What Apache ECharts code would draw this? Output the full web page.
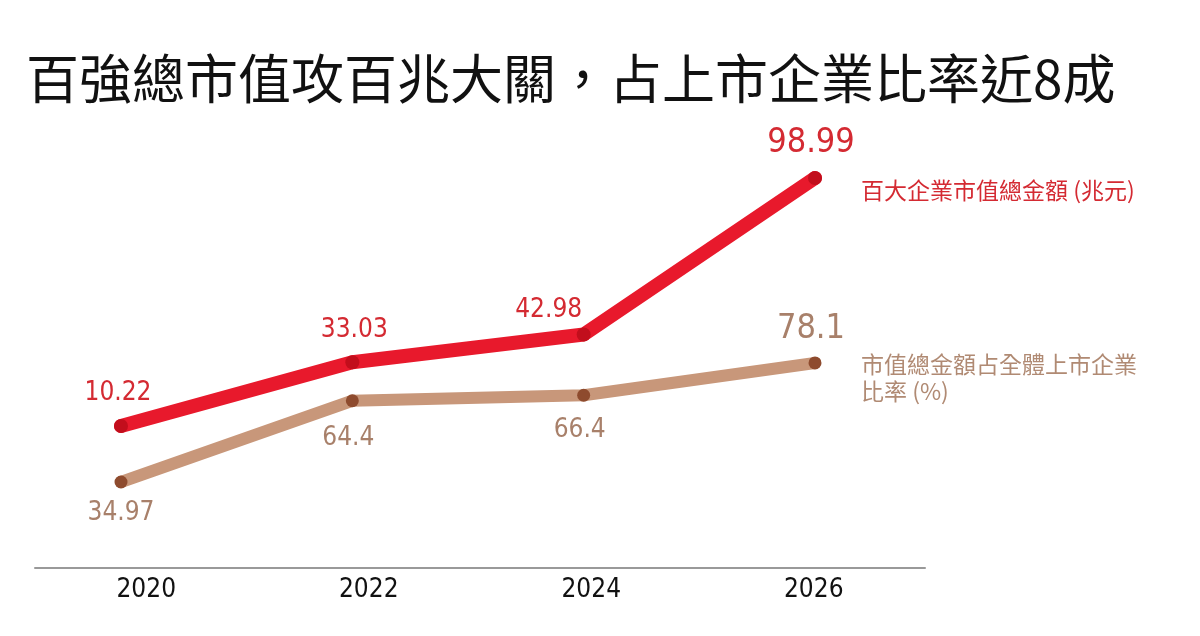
<!DOCTYPE html>
<html><head><meta charset="utf-8">
<script src="https://cdn.jsdelivr.net/npm/echarts@6/dist/echarts.min.js"></script>
<style>html,body{margin:0;padding:0;background:#fff}#c{width:1200px;height:636px}</style>
</head><body><div id="c"></div>
<script>
const years = ['2020','2022','2024','2026'];
const marketCap = [10.22, 33.03, 42.98, 98.99];
const sharePct = [34.97, 64.4, 66.4, 78.1];
const titleText = '百強總市值攻百兆大關，占上市企業比率近8成';
const capName = '百大企業市值總金額 (兆元)';
const shareName = '市值總金額占全體上市企業\n比率 (%)';

const numFont = "'Liberation Sans Narrow','DejaVu Sans Condensed',Lato,sans-serif";
const cjkFont = "'Noto Sans CJK TC','Noto Sans',sans-serif";

// label placement styling (not data)
const capLabelStyle = [
  {position:'top', distance:13, offset:[-3,0], fontSize:26},
  {position:'top', distance:12, offset:[2,0], fontSize:26},
  {position:'top', distance:4, offset:[-35,0], fontSize:26},
  {position:'top', distance:11, offset:[-4,0], fontSize:34}
];
const shareLabelStyle = [
  {position:'bottom', distance:12, offset:[0,0], fontSize:26},
  {position:'bottom', distance:18, offset:[-4,0], fontSize:26},
  {position:'bottom', distance:15, offset:[-4,0], fontSize:26},
  {position:'top', distance:10, offset:[-4,0], fontSize:34}
];

const chart = echarts.init(document.getElementById('c'), null, {renderer:'canvas'});
chart.setOption({
  animation:false,
  backgroundColor:'#fff',
  title:{text:titleText, left:21, top:47,
    textStyle:{fontFamily:cjkFont, fontSize:53, fontWeight:'normal', color:'#111'}},
  grid:[
    {left:121, right:385, top:140, bottom:68},
    {left:35, right:275, top:140, bottom:68}
  ],
  xAxis:[
    {gridIndex:0, type:'category', data:years, boundaryGap:false, show:false},
    {gridIndex:1, type:'category', data:years, boundaryGap:true,
      axisLine:{lineStyle:{color:'#999', width:2}}, axisTick:{show:false},
      axisLabel:{margin:9, fontSize:26, fontFamily:numFont, color:'#111'}}
  ],
  yAxis:[
    {gridIndex:0, type:'value', min:-40.6, max:112.6, show:false},
    {gridIndex:0, type:'value', min:3.8, max:158.9, show:false},
    {gridIndex:1, type:'value', min:0, max:1, show:false}
  ],
  series:[
    {type:'line', name:'share', xAxisIndex:0, yAxisIndex:1,
      data: sharePct.map((v,i)=>({value:v, label:{...shareLabelStyle[i]}})),
      lineStyle:{color:'#C8977A', width:12, cap:'round'},
      symbol:'circle', symbolSize:13,
      itemStyle:{color:'#8E4B2E'},
      label:{show:true, color:'#A8806A', fontFamily:numFont},
      endLabel:{show:true, formatter:shareName, color:'#B08A73', fontFamily:cjkFont,
        fontSize:23, lineHeight:27, distance:46, offset:[0,15], align:'left'}
    },
    {type:'line', name:'cap', xAxisIndex:0, yAxisIndex:0,
      data: marketCap.map((v,i)=>({value:v, label:{...capLabelStyle[i]}})),
      lineStyle:{color:'#E8192C', width:14, cap:'round'},
      symbol:'circle', symbolSize:14,
      itemStyle:{color:'#C20E1C'},
      label:{show:true, color:'#D42A32', fontFamily:numFont},
      endLabel:{show:true, formatter:capName, color:'#D42A32', fontFamily:cjkFont,
        fontSize:23, distance:46, offset:[0,12], align:'left'}
    }
  ]
});
</script></body></html>
